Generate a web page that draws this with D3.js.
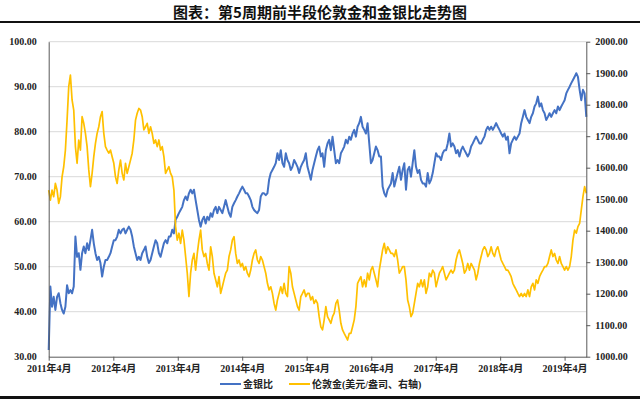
<!DOCTYPE html>
<html>
<head>
<meta charset="utf-8">
<script src="https://cdn.jsdelivr.net/npm/d3@7"></script>
<style>
  body { margin: 0; background: #fff; }
  svg { display: block; }
  .lbl { font-family: "Liberation Serif", "Noto Sans CJK SC", serif; font-weight: bold; font-size: 10px; fill: #222; }
</style>
</head>
<body>
<svg id="chart" width="640" height="399"></svg>
<script>
// 金银比 (left axis), evenly spaced from 2011-04 to 2019-08
const ratioValues = [
  31.5, 45.6, 41.1, 43.3, 40.4, 43.3, 44.1, 41.9, 40.4, 39.6,
  41.1, 45.9, 44.1, 44.8, 44.1, 45.6, 56.7, 52.2, 53.0, 49.3,
  53.0, 54.5, 53.0, 55.2, 53.7, 55.9, 58.2, 55.2, 53.0, 51.5,
  52.2, 50.8, 47.8, 50.0, 51.5, 51.5, 52.2, 53.0, 54.5, 55.9,
  55.9, 56.7, 58.2, 57.4, 58.2, 58.5, 57.4, 58.2, 58.9, 58.2,
  56.7, 54.5, 53.0, 51.5, 52.2, 51.5, 53.0, 53.7, 54.5, 52.2,
  50.8, 51.5, 53.0, 54.5, 55.9, 55.2, 53.0, 52.2, 53.7, 55.2,
  55.9, 55.2, 56.7, 56.7, 58.2, 57.4, 60.4, 61.1, 61.9, 62.6,
  63.3, 64.8, 65.6, 64.8, 66.3, 67.1, 66.3, 67.1, 64.8, 62.6,
  60.4, 58.9, 60.4, 61.1, 59.6, 61.1, 60.4, 61.9, 61.1, 62.6,
  63.3, 61.9, 63.3, 62.6, 61.9, 63.3, 64.8, 63.3, 61.9, 61.1,
  63.3, 64.1, 64.8, 65.6, 66.3, 67.1, 67.8, 67.1, 66.3, 66.3,
  65.6, 64.8, 63.3, 62.6, 62.2, 61.9, 62.6, 65.6, 66.3, 66.3,
  65.9, 66.3, 69.3, 70.8, 71.5, 72.2, 73.0, 75.2, 73.7, 75.9,
  73.0, 72.2, 75.2, 73.7, 73.0, 71.5, 72.2, 73.7, 73.0, 72.2,
  70.8, 72.2, 73.0, 73.7, 75.2, 72.2, 70.8, 69.3, 71.5, 73.0,
  74.5,
  75.9, 76.7, 74.5, 75.2, 72.2, 75.9, 77.4, 78.2, 75.9, 78.9,
  75.9, 73.0, 73.7, 73.0, 75.2, 75.9, 76.7, 78.2, 77.4, 78.9,
  78.2, 79.6, 80.4, 78.9, 81.1, 81.9, 83.3, 81.1, 80.4, 79.6,
  81.9, 77.4, 73.0, 73.7, 75.2, 76.7, 75.9, 74.5, 74.5, 67.8,
  66.3, 65.6, 67.1, 67.8, 68.5, 70.8, 67.8, 69.3, 70.8, 72.2,
  69.3, 71.5, 73.0, 67.1, 71.5, 72.2, 70.0, 73.0, 75.9, 72.2,
  70.8, 71.5, 69.3, 68.5, 68.5, 67.8, 70.8, 68.5, 69.3, 70.8,
  73.0, 75.2, 74.5, 74.5, 73.7, 75.2, 75.9, 75.9, 77.4, 79.6,
  76.7,
  77.4, 76.7, 75.2, 75.9, 74.5, 75.9, 76.7, 75.9, 75.2, 74.5,
  75.2, 76.7, 77.4, 78.2, 78.9, 78.2, 77.4, 77.4, 78.2, 78.9,
  80.4, 81.1, 80.4, 81.1, 80.4, 81.1, 81.9, 81.1, 80.4, 79.6,
  78.9, 79.6, 78.2, 78.9, 75.2, 77.4, 78.2, 78.9, 78.2, 78.9,
  79.6, 81.9, 83.3, 84.8, 83.3, 82.6, 81.9, 83.3, 84.1, 85.6,
  86.3, 87.8, 85.6, 86.3, 84.8, 84.1, 82.6, 83.3, 84.1, 83.3,
  84.1, 84.8, 84.1, 85.6, 84.8, 85.6, 86.3, 87.0, 88.5, 89.3,
  90.0, 90.8, 91.5, 92.2, 93.0, 92.2, 89.3, 87.0, 89.3, 88.5,
  83.3
];

// 伦敦金 美元/盎司 (right axis), same dates
const goldValues = [
  1529, 1497, 1529, 1508, 1550, 1529, 1487, 1508, 1571, 1603,
  1656, 1751, 1857, 1894, 1815, 1783, 1667, 1614, 1688, 1656,
  1762, 1741, 1709, 1667, 1593, 1540, 1582, 1635, 1677, 1709,
  1730, 1762, 1778, 1709, 1667, 1656, 1646, 1656, 1635, 1614,
  1571, 1550, 1593, 1624, 1582, 1561, 1614, 1582, 1603, 1624,
  1646, 1688, 1751, 1773, 1788, 1783, 1762, 1720, 1730, 1741,
  1709, 1730, 1709, 1677, 1688, 1667, 1688, 1656, 1667, 1635,
  1582, 1593, 1603, 1582, 1571, 1529, 1413, 1370, 1392, 1360,
  1402, 1370, 1318, 1265, 1191, 1265, 1307, 1328, 1275, 1328,
  1370, 1402, 1339, 1318, 1328, 1296, 1275, 1349, 1318, 1265,
  1244, 1222, 1254, 1201, 1222, 1244, 1265, 1275, 1318, 1339,
  1370, 1381, 1328, 1296, 1307, 1286, 1296, 1275, 1286, 1265,
  1254, 1275, 1307, 1328, 1339, 1307, 1296, 1318, 1307, 1286,
  1265, 1233, 1212, 1222, 1201, 1169, 1148, 1180, 1201, 1222,
  1201, 1233, 1201, 1191, 1286, 1265, 1222, 1201, 1180, 1159,
  1148, 1191, 1201, 1212, 1191, 1201, 1201, 1180, 1191, 1169,
  1180,
  1169, 1127, 1095, 1085, 1117, 1159, 1127, 1117, 1106, 1127,
  1138, 1169, 1180, 1148, 1106, 1085, 1074, 1064, 1053, 1074,
  1074, 1095, 1117, 1159, 1233, 1244, 1254, 1222, 1244, 1222,
  1265, 1244, 1275, 1286, 1265, 1244, 1222, 1275, 1307, 1339,
  1360, 1328, 1349, 1339, 1328, 1328, 1318, 1339, 1307, 1265,
  1275, 1286, 1286, 1244, 1180, 1159, 1127, 1138, 1169, 1201,
  1233, 1222, 1244, 1222, 1244, 1201, 1222, 1265, 1254, 1275,
  1265, 1222, 1244, 1265, 1275, 1286, 1265, 1244, 1254, 1265,
  1275,
  1265, 1275, 1307, 1328, 1339, 1318, 1296, 1265, 1275, 1296,
  1275, 1296, 1286, 1275, 1244, 1265, 1296, 1318, 1339, 1349,
  1339, 1318, 1328, 1349, 1328, 1318, 1339, 1349, 1328, 1307,
  1296, 1286, 1275, 1275, 1265, 1254, 1233, 1222, 1212, 1201,
  1191, 1201, 1191, 1201, 1191, 1212, 1191, 1222, 1233, 1212,
  1244, 1233, 1254, 1265, 1275, 1286, 1286, 1296, 1318, 1339,
  1318, 1328, 1307, 1296, 1318, 1296, 1286, 1275, 1286, 1275,
  1286, 1318, 1370, 1402, 1392, 1413, 1423, 1466, 1508, 1540,
  1519
];

const tickYears = [2011, 2012, 2013, 2014, 2015, 2016, 2017, 2018, 2019];
const leftTicks = [30, 40, 50, 60, 70, 80, 90, 100];
const rightTicks = [1000, 1100, 1200, 1300, 1400, 1500, 1600, 1700, 1800, 1900, 2000];
const seriesNames = ['金银比', '伦敦金(美元/盎司、右轴)'];
const titleText = '图表：第5周期前半段伦敦金和金银比走势图';

const startDate = new Date(2011, 3, 1);
const endDate = new Date(2019, 7, 2);

const svg = d3.select('#chart');
const margin = { left: 48.7, right: 640 - 586.3, top: 41.7, bottom: 399 - 356.7 };
const plotW = 640 - margin.left - margin.right;
const plotH = 399 - margin.top - margin.bottom;

// title and frame lines
svg.append('text')
  .attr('x', 320).attr('y', 18)
  .attr('text-anchor', 'middle')
  .style('font-family', '"Noto Sans CJK SC", sans-serif')
  .style('font-weight', 'bold')
  .style('font-size', '15px')
  .style('fill', '#111')
  .text(titleText);

svg.append('rect').attr('x', 0).attr('y', 21).attr('width', 640).attr('height', 2).attr('fill', '#111');
svg.append('rect').attr('x', 0).attr('y', 396).attr('width', 640).attr('height', 3).attr('fill', '#111');

const g = svg.append('g').attr('transform', `translate(${margin.left},${margin.top})`);

const n = ratioValues.length;
const dates = ratioValues.map((_, i) => new Date(+startDate + i * (endDate - startDate) / (n - 1)));

const x = d3.scaleTime().domain([startDate, endDate]).range([0, plotW]);
const yL = d3.scaleLinear().domain([30, 100]).range([plotH, 0]);
const yR = d3.scaleLinear().domain([1000, 2000]).range([plotH, 0]);

// gridlines
g.append('g')
  .selectAll('line')
  .data(leftTicks.filter(d => d > 30))
  .enter().append('line')
  .attr('x1', 0).attr('x2', plotW)
  .attr('y1', d => yL(d)).attr('y2', d => yL(d))
  .attr('stroke', '#d9d9d9').attr('stroke-width', 1);

// lines
const ratioLine = d3.line().x((d, i) => x(dates[i])).y(d => yL(d));
const goldLine = d3.line().x((d, i) => x(dates[i])).y(d => yR(d));

g.append('path')
  .datum(ratioValues)
  .attr('d', ratioLine)
  .attr('fill', 'none')
  .attr('stroke', '#4472c4')
  .attr('stroke-width', 2)
  .attr('stroke-linejoin', 'round');

g.append('path')
  .datum(goldValues)
  .attr('d', goldLine)
  .attr('fill', 'none')
  .attr('stroke', '#ffc000')
  .attr('stroke-width', 1.7)
  .attr('stroke-linejoin', 'round');

// left axis
const axL = g.append('g')
  .call(d3.axisLeft(yL).tickValues(leftTicks).tickSize(0).tickPadding(12).tickFormat(d3.format('.2f')));
axL.select('.domain').attr('stroke', '#595959');
axL.selectAll('text').attr('class', 'lbl').attr('font-family', null).attr('font-size', null);

// right axis
const axR = g.append('g')
  .attr('transform', `translate(${plotW},0)`)
  .call(d3.axisRight(yR).tickValues(rightTicks).tickSizeOuter(0).tickSizeInner(4).tickPadding(5).tickFormat(d3.format('.2f')));
axR.select('.domain').attr('stroke', '#595959');
axR.selectAll('line').attr('stroke', '#595959');
axR.selectAll('text').attr('class', 'lbl').attr('font-family', null).attr('font-size', null);

// bottom axis
const axB = g.append('g')
  .attr('transform', `translate(0,${plotH})`)
  .call(d3.axisBottom(x)
    .tickValues(tickYears.map(y => new Date(y, 3, 1)))
    .tickSizeOuter(0).tickSizeInner(4).tickPadding(4)
    .tickFormat(d => `${d.getFullYear()}年4月`));
axB.select('.domain').attr('stroke', '#595959');
axB.selectAll('line').attr('stroke', '#595959');
axB.selectAll('text').attr('class', 'lbl').attr('font-family', null).attr('font-size', null);

// legend
const legend = svg.append('g').attr('transform', 'translate(0,384)');
const legendItems = [
  { name: seriesNames[0], color: '#4472c4', x: 220 },
  { name: seriesNames[1], color: '#ffc000', x: 289 }
];
legendItems.forEach(d => {
  legend.append('line')
    .attr('x1', d.x).attr('x2', d.x + 21)
    .attr('y1', 0).attr('y2', 0)
    .attr('stroke', d.color).attr('stroke-width', 2);
  legend.append('text')
    .attr('class', 'lbl')
    .attr('x', d.x + 23).attr('y', 3.5)
    .text(d.name);
});
</script>
</body>
</html>
